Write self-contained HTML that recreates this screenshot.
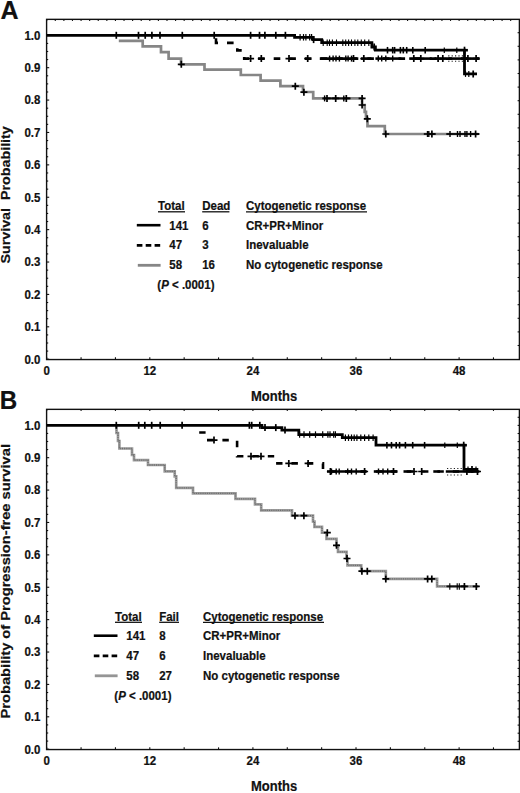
<!DOCTYPE html>
<html><head><meta charset="utf-8"><style>
html,body{margin:0;padding:0;background:#fff;width:520px;height:793px;overflow:hidden}
svg{display:block}
</style></head><body>
<svg width="520" height="793" viewBox="0 0 520 793" font-family='"Liberation Sans", sans-serif' font-weight="bold" fill="#111" stroke-linecap="butt">
<style>text{stroke:#111;stroke-width:0.2px;paint-order:stroke}</style>
<text transform="translate(0.50,18.60) scale(1,1.05)" font-size="25" text-anchor="start" >A</text>
<text transform="translate(-0.30,408.60) scale(1,1.05)" font-size="24.2" text-anchor="start" >B</text>
<rect x="46.60" y="19.35" width="472.80" height="340.20" fill="none" stroke="#111" stroke-width="1.4"/>
<line x1="46.60" y1="359.20" x2="49.20" y2="359.20" stroke="#111" stroke-width="1.1"/>
<line x1="46.60" y1="351.10" x2="48.20" y2="351.10" stroke="#111" stroke-width="1.1"/>
<line x1="46.60" y1="343.00" x2="48.20" y2="343.00" stroke="#111" stroke-width="1.1"/>
<line x1="46.60" y1="334.91" x2="48.20" y2="334.91" stroke="#111" stroke-width="1.1"/>
<line x1="46.60" y1="326.81" x2="49.20" y2="326.81" stroke="#111" stroke-width="1.1"/>
<line x1="46.60" y1="318.71" x2="48.20" y2="318.71" stroke="#111" stroke-width="1.1"/>
<line x1="46.60" y1="310.62" x2="48.20" y2="310.62" stroke="#111" stroke-width="1.1"/>
<line x1="46.60" y1="302.52" x2="48.20" y2="302.52" stroke="#111" stroke-width="1.1"/>
<line x1="46.60" y1="294.42" x2="49.20" y2="294.42" stroke="#111" stroke-width="1.1"/>
<line x1="46.60" y1="286.32" x2="48.20" y2="286.32" stroke="#111" stroke-width="1.1"/>
<line x1="46.60" y1="278.23" x2="48.20" y2="278.23" stroke="#111" stroke-width="1.1"/>
<line x1="46.60" y1="270.13" x2="48.20" y2="270.13" stroke="#111" stroke-width="1.1"/>
<line x1="46.60" y1="262.03" x2="49.20" y2="262.03" stroke="#111" stroke-width="1.1"/>
<line x1="46.60" y1="253.93" x2="48.20" y2="253.93" stroke="#111" stroke-width="1.1"/>
<line x1="46.60" y1="245.83" x2="48.20" y2="245.83" stroke="#111" stroke-width="1.1"/>
<line x1="46.60" y1="237.74" x2="48.20" y2="237.74" stroke="#111" stroke-width="1.1"/>
<line x1="46.60" y1="229.64" x2="49.20" y2="229.64" stroke="#111" stroke-width="1.1"/>
<line x1="46.60" y1="221.54" x2="48.20" y2="221.54" stroke="#111" stroke-width="1.1"/>
<line x1="46.60" y1="213.44" x2="48.20" y2="213.44" stroke="#111" stroke-width="1.1"/>
<line x1="46.60" y1="205.35" x2="48.20" y2="205.35" stroke="#111" stroke-width="1.1"/>
<line x1="46.60" y1="197.25" x2="49.20" y2="197.25" stroke="#111" stroke-width="1.1"/>
<line x1="46.60" y1="189.15" x2="48.20" y2="189.15" stroke="#111" stroke-width="1.1"/>
<line x1="46.60" y1="181.05" x2="48.20" y2="181.05" stroke="#111" stroke-width="1.1"/>
<line x1="46.60" y1="172.96" x2="48.20" y2="172.96" stroke="#111" stroke-width="1.1"/>
<line x1="46.60" y1="164.86" x2="49.20" y2="164.86" stroke="#111" stroke-width="1.1"/>
<line x1="46.60" y1="156.76" x2="48.20" y2="156.76" stroke="#111" stroke-width="1.1"/>
<line x1="46.60" y1="148.66" x2="48.20" y2="148.66" stroke="#111" stroke-width="1.1"/>
<line x1="46.60" y1="140.57" x2="48.20" y2="140.57" stroke="#111" stroke-width="1.1"/>
<line x1="46.60" y1="132.47" x2="49.20" y2="132.47" stroke="#111" stroke-width="1.1"/>
<line x1="46.60" y1="124.37" x2="48.20" y2="124.37" stroke="#111" stroke-width="1.1"/>
<line x1="46.60" y1="116.28" x2="48.20" y2="116.28" stroke="#111" stroke-width="1.1"/>
<line x1="46.60" y1="108.18" x2="48.20" y2="108.18" stroke="#111" stroke-width="1.1"/>
<line x1="46.60" y1="100.08" x2="49.20" y2="100.08" stroke="#111" stroke-width="1.1"/>
<line x1="46.60" y1="91.98" x2="48.20" y2="91.98" stroke="#111" stroke-width="1.1"/>
<line x1="46.60" y1="83.88" x2="48.20" y2="83.88" stroke="#111" stroke-width="1.1"/>
<line x1="46.60" y1="75.79" x2="48.20" y2="75.79" stroke="#111" stroke-width="1.1"/>
<line x1="46.60" y1="67.69" x2="49.20" y2="67.69" stroke="#111" stroke-width="1.1"/>
<line x1="46.60" y1="59.59" x2="48.20" y2="59.59" stroke="#111" stroke-width="1.1"/>
<line x1="46.60" y1="51.50" x2="48.20" y2="51.50" stroke="#111" stroke-width="1.1"/>
<line x1="46.60" y1="43.40" x2="48.20" y2="43.40" stroke="#111" stroke-width="1.1"/>
<line x1="46.60" y1="35.30" x2="49.20" y2="35.30" stroke="#111" stroke-width="1.1"/>
<line x1="46.70" y1="359.55" x2="46.70" y2="357.35" stroke="#111" stroke-width="1.1"/>
<line x1="81.07" y1="359.55" x2="81.07" y2="357.35" stroke="#111" stroke-width="1.1"/>
<line x1="115.44" y1="359.55" x2="115.44" y2="357.35" stroke="#111" stroke-width="1.1"/>
<line x1="149.80" y1="359.55" x2="149.80" y2="357.35" stroke="#111" stroke-width="1.1"/>
<line x1="184.17" y1="359.55" x2="184.17" y2="357.35" stroke="#111" stroke-width="1.1"/>
<line x1="218.54" y1="359.55" x2="218.54" y2="357.35" stroke="#111" stroke-width="1.1"/>
<line x1="252.91" y1="359.55" x2="252.91" y2="357.35" stroke="#111" stroke-width="1.1"/>
<line x1="287.28" y1="359.55" x2="287.28" y2="357.35" stroke="#111" stroke-width="1.1"/>
<line x1="321.64" y1="359.55" x2="321.64" y2="357.35" stroke="#111" stroke-width="1.1"/>
<line x1="356.01" y1="359.55" x2="356.01" y2="357.35" stroke="#111" stroke-width="1.1"/>
<line x1="390.38" y1="359.55" x2="390.38" y2="357.35" stroke="#111" stroke-width="1.1"/>
<line x1="424.75" y1="359.55" x2="424.75" y2="357.35" stroke="#111" stroke-width="1.1"/>
<line x1="459.12" y1="359.55" x2="459.12" y2="357.35" stroke="#111" stroke-width="1.1"/>
<line x1="493.48" y1="359.55" x2="493.48" y2="357.35" stroke="#111" stroke-width="1.1"/>
<line x1="46.70" y1="19.35" x2="46.70" y2="20.95" stroke="#111" stroke-width="1.1"/>
<line x1="55.29" y1="19.35" x2="55.29" y2="20.95" stroke="#111" stroke-width="1.1"/>
<line x1="63.88" y1="19.35" x2="63.88" y2="20.95" stroke="#111" stroke-width="1.1"/>
<line x1="72.48" y1="19.35" x2="72.48" y2="20.95" stroke="#111" stroke-width="1.1"/>
<line x1="81.07" y1="19.35" x2="81.07" y2="20.95" stroke="#111" stroke-width="1.1"/>
<line x1="89.66" y1="19.35" x2="89.66" y2="20.95" stroke="#111" stroke-width="1.1"/>
<line x1="98.25" y1="19.35" x2="98.25" y2="20.95" stroke="#111" stroke-width="1.1"/>
<line x1="106.84" y1="19.35" x2="106.84" y2="20.95" stroke="#111" stroke-width="1.1"/>
<line x1="115.44" y1="19.35" x2="115.44" y2="20.95" stroke="#111" stroke-width="1.1"/>
<line x1="124.03" y1="19.35" x2="124.03" y2="20.95" stroke="#111" stroke-width="1.1"/>
<line x1="132.62" y1="19.35" x2="132.62" y2="20.95" stroke="#111" stroke-width="1.1"/>
<line x1="141.21" y1="19.35" x2="141.21" y2="20.95" stroke="#111" stroke-width="1.1"/>
<line x1="149.80" y1="19.35" x2="149.80" y2="20.95" stroke="#111" stroke-width="1.1"/>
<line x1="158.40" y1="19.35" x2="158.40" y2="20.95" stroke="#111" stroke-width="1.1"/>
<line x1="166.99" y1="19.35" x2="166.99" y2="20.95" stroke="#111" stroke-width="1.1"/>
<line x1="175.58" y1="19.35" x2="175.58" y2="20.95" stroke="#111" stroke-width="1.1"/>
<line x1="184.17" y1="19.35" x2="184.17" y2="20.95" stroke="#111" stroke-width="1.1"/>
<line x1="192.76" y1="19.35" x2="192.76" y2="20.95" stroke="#111" stroke-width="1.1"/>
<line x1="201.36" y1="19.35" x2="201.36" y2="20.95" stroke="#111" stroke-width="1.1"/>
<line x1="209.95" y1="19.35" x2="209.95" y2="20.95" stroke="#111" stroke-width="1.1"/>
<line x1="218.54" y1="19.35" x2="218.54" y2="20.95" stroke="#111" stroke-width="1.1"/>
<line x1="227.13" y1="19.35" x2="227.13" y2="20.95" stroke="#111" stroke-width="1.1"/>
<line x1="235.72" y1="19.35" x2="235.72" y2="20.95" stroke="#111" stroke-width="1.1"/>
<line x1="244.32" y1="19.35" x2="244.32" y2="20.95" stroke="#111" stroke-width="1.1"/>
<line x1="252.91" y1="19.35" x2="252.91" y2="20.95" stroke="#111" stroke-width="1.1"/>
<line x1="261.50" y1="19.35" x2="261.50" y2="20.95" stroke="#111" stroke-width="1.1"/>
<line x1="270.09" y1="19.35" x2="270.09" y2="20.95" stroke="#111" stroke-width="1.1"/>
<line x1="278.68" y1="19.35" x2="278.68" y2="20.95" stroke="#111" stroke-width="1.1"/>
<line x1="287.28" y1="19.35" x2="287.28" y2="20.95" stroke="#111" stroke-width="1.1"/>
<line x1="295.87" y1="19.35" x2="295.87" y2="20.95" stroke="#111" stroke-width="1.1"/>
<line x1="304.46" y1="19.35" x2="304.46" y2="20.95" stroke="#111" stroke-width="1.1"/>
<line x1="313.05" y1="19.35" x2="313.05" y2="20.95" stroke="#111" stroke-width="1.1"/>
<line x1="321.64" y1="19.35" x2="321.64" y2="20.95" stroke="#111" stroke-width="1.1"/>
<line x1="330.24" y1="19.35" x2="330.24" y2="20.95" stroke="#111" stroke-width="1.1"/>
<line x1="338.83" y1="19.35" x2="338.83" y2="20.95" stroke="#111" stroke-width="1.1"/>
<line x1="347.42" y1="19.35" x2="347.42" y2="20.95" stroke="#111" stroke-width="1.1"/>
<line x1="356.01" y1="19.35" x2="356.01" y2="20.95" stroke="#111" stroke-width="1.1"/>
<line x1="364.60" y1="19.35" x2="364.60" y2="20.95" stroke="#111" stroke-width="1.1"/>
<line x1="373.20" y1="19.35" x2="373.20" y2="20.95" stroke="#111" stroke-width="1.1"/>
<line x1="381.79" y1="19.35" x2="381.79" y2="20.95" stroke="#111" stroke-width="1.1"/>
<line x1="390.38" y1="19.35" x2="390.38" y2="20.95" stroke="#111" stroke-width="1.1"/>
<line x1="398.97" y1="19.35" x2="398.97" y2="20.95" stroke="#111" stroke-width="1.1"/>
<line x1="407.56" y1="19.35" x2="407.56" y2="20.95" stroke="#111" stroke-width="1.1"/>
<line x1="416.16" y1="19.35" x2="416.16" y2="20.95" stroke="#111" stroke-width="1.1"/>
<line x1="424.75" y1="19.35" x2="424.75" y2="20.95" stroke="#111" stroke-width="1.1"/>
<line x1="433.34" y1="19.35" x2="433.34" y2="20.95" stroke="#111" stroke-width="1.1"/>
<line x1="441.93" y1="19.35" x2="441.93" y2="20.95" stroke="#111" stroke-width="1.1"/>
<line x1="450.52" y1="19.35" x2="450.52" y2="20.95" stroke="#111" stroke-width="1.1"/>
<line x1="459.12" y1="19.35" x2="459.12" y2="20.95" stroke="#111" stroke-width="1.1"/>
<line x1="467.71" y1="19.35" x2="467.71" y2="20.95" stroke="#111" stroke-width="1.1"/>
<line x1="476.30" y1="19.35" x2="476.30" y2="20.95" stroke="#111" stroke-width="1.1"/>
<line x1="484.89" y1="19.35" x2="484.89" y2="20.95" stroke="#111" stroke-width="1.1"/>
<line x1="493.48" y1="19.35" x2="493.48" y2="20.95" stroke="#111" stroke-width="1.1"/>
<line x1="502.08" y1="19.35" x2="502.08" y2="20.95" stroke="#111" stroke-width="1.1"/>
<line x1="510.67" y1="19.35" x2="510.67" y2="20.95" stroke="#111" stroke-width="1.1"/>
<line x1="519.40" y1="32.70" x2="517.60" y2="32.70" stroke="#111" stroke-width="1.1"/>
<line x1="519.40" y1="46.30" x2="517.60" y2="46.30" stroke="#111" stroke-width="1.1"/>
<line x1="519.40" y1="59.90" x2="517.60" y2="59.90" stroke="#111" stroke-width="1.1"/>
<line x1="519.40" y1="73.50" x2="517.60" y2="73.50" stroke="#111" stroke-width="1.1"/>
<line x1="519.40" y1="87.10" x2="517.60" y2="87.10" stroke="#111" stroke-width="1.1"/>
<line x1="519.40" y1="100.70" x2="517.60" y2="100.70" stroke="#111" stroke-width="1.1"/>
<line x1="519.40" y1="114.30" x2="517.60" y2="114.30" stroke="#111" stroke-width="1.1"/>
<line x1="519.40" y1="127.90" x2="517.60" y2="127.90" stroke="#111" stroke-width="1.1"/>
<line x1="519.40" y1="141.50" x2="517.60" y2="141.50" stroke="#111" stroke-width="1.1"/>
<line x1="519.40" y1="155.10" x2="517.60" y2="155.10" stroke="#111" stroke-width="1.1"/>
<line x1="519.40" y1="168.70" x2="517.60" y2="168.70" stroke="#111" stroke-width="1.1"/>
<line x1="519.40" y1="182.30" x2="517.60" y2="182.30" stroke="#111" stroke-width="1.1"/>
<line x1="519.40" y1="195.90" x2="517.60" y2="195.90" stroke="#111" stroke-width="1.1"/>
<line x1="519.40" y1="209.50" x2="517.60" y2="209.50" stroke="#111" stroke-width="1.1"/>
<line x1="519.40" y1="223.10" x2="517.60" y2="223.10" stroke="#111" stroke-width="1.1"/>
<line x1="519.40" y1="236.70" x2="517.60" y2="236.70" stroke="#111" stroke-width="1.1"/>
<line x1="519.40" y1="250.30" x2="517.60" y2="250.30" stroke="#111" stroke-width="1.1"/>
<line x1="519.40" y1="263.90" x2="517.60" y2="263.90" stroke="#111" stroke-width="1.1"/>
<line x1="519.40" y1="277.50" x2="517.60" y2="277.50" stroke="#111" stroke-width="1.1"/>
<line x1="519.40" y1="291.10" x2="517.60" y2="291.10" stroke="#111" stroke-width="1.1"/>
<line x1="519.40" y1="304.70" x2="517.60" y2="304.70" stroke="#111" stroke-width="1.1"/>
<line x1="519.40" y1="318.30" x2="517.60" y2="318.30" stroke="#111" stroke-width="1.1"/>
<line x1="519.40" y1="331.90" x2="517.60" y2="331.90" stroke="#111" stroke-width="1.1"/>
<line x1="519.40" y1="345.50" x2="517.60" y2="345.50" stroke="#111" stroke-width="1.1"/>
<text transform="translate(40.40,363.60) scale(1,1.1)" font-size="11.5" text-anchor="end" >0.0</text>
<text transform="translate(40.40,331.21) scale(1,1.1)" font-size="11.5" text-anchor="end" >0.1</text>
<text transform="translate(40.40,298.82) scale(1,1.1)" font-size="11.5" text-anchor="end" >0.2</text>
<text transform="translate(40.40,266.43) scale(1,1.1)" font-size="11.5" text-anchor="end" >0.3</text>
<text transform="translate(40.40,234.04) scale(1,1.1)" font-size="11.5" text-anchor="end" >0.4</text>
<text transform="translate(40.40,201.65) scale(1,1.1)" font-size="11.5" text-anchor="end" >0.5</text>
<text transform="translate(40.40,169.26) scale(1,1.1)" font-size="11.5" text-anchor="end" >0.6</text>
<text transform="translate(40.40,136.87) scale(1,1.1)" font-size="11.5" text-anchor="end" >0.7</text>
<text transform="translate(40.40,104.48) scale(1,1.1)" font-size="11.5" text-anchor="end" >0.8</text>
<text transform="translate(40.40,72.09) scale(1,1.1)" font-size="11.5" text-anchor="end" >0.9</text>
<text transform="translate(40.40,39.70) scale(1,1.1)" font-size="11.5" text-anchor="end" >1.0</text>
<text transform="translate(46.70,374.80) scale(1,1.1)" font-size="11.5" text-anchor="middle" >0</text>
<text transform="translate(149.80,374.80) scale(1,1.1)" font-size="11.5" text-anchor="middle" >12</text>
<text transform="translate(252.91,374.80) scale(1,1.1)" font-size="11.5" text-anchor="middle" >24</text>
<text transform="translate(356.01,374.80) scale(1,1.1)" font-size="11.5" text-anchor="middle" >36</text>
<text transform="translate(459.12,374.80) scale(1,1.1)" font-size="11.5" text-anchor="middle" >48</text>
<text transform="translate(251.00,400.60) scale(1,1.1)" font-size="13" text-anchor="start" >Months</text>
<rect x="46.60" y="409.35" width="472.80" height="340.20" fill="none" stroke="#111" stroke-width="1.4"/>
<line x1="46.60" y1="749.20" x2="49.20" y2="749.20" stroke="#111" stroke-width="1.1"/>
<line x1="46.60" y1="741.10" x2="48.20" y2="741.10" stroke="#111" stroke-width="1.1"/>
<line x1="46.60" y1="733.00" x2="48.20" y2="733.00" stroke="#111" stroke-width="1.1"/>
<line x1="46.60" y1="724.91" x2="48.20" y2="724.91" stroke="#111" stroke-width="1.1"/>
<line x1="46.60" y1="716.81" x2="49.20" y2="716.81" stroke="#111" stroke-width="1.1"/>
<line x1="46.60" y1="708.71" x2="48.20" y2="708.71" stroke="#111" stroke-width="1.1"/>
<line x1="46.60" y1="700.62" x2="48.20" y2="700.62" stroke="#111" stroke-width="1.1"/>
<line x1="46.60" y1="692.52" x2="48.20" y2="692.52" stroke="#111" stroke-width="1.1"/>
<line x1="46.60" y1="684.42" x2="49.20" y2="684.42" stroke="#111" stroke-width="1.1"/>
<line x1="46.60" y1="676.32" x2="48.20" y2="676.32" stroke="#111" stroke-width="1.1"/>
<line x1="46.60" y1="668.23" x2="48.20" y2="668.23" stroke="#111" stroke-width="1.1"/>
<line x1="46.60" y1="660.13" x2="48.20" y2="660.13" stroke="#111" stroke-width="1.1"/>
<line x1="46.60" y1="652.03" x2="49.20" y2="652.03" stroke="#111" stroke-width="1.1"/>
<line x1="46.60" y1="643.93" x2="48.20" y2="643.93" stroke="#111" stroke-width="1.1"/>
<line x1="46.60" y1="635.84" x2="48.20" y2="635.84" stroke="#111" stroke-width="1.1"/>
<line x1="46.60" y1="627.74" x2="48.20" y2="627.74" stroke="#111" stroke-width="1.1"/>
<line x1="46.60" y1="619.64" x2="49.20" y2="619.64" stroke="#111" stroke-width="1.1"/>
<line x1="46.60" y1="611.54" x2="48.20" y2="611.54" stroke="#111" stroke-width="1.1"/>
<line x1="46.60" y1="603.45" x2="48.20" y2="603.45" stroke="#111" stroke-width="1.1"/>
<line x1="46.60" y1="595.35" x2="48.20" y2="595.35" stroke="#111" stroke-width="1.1"/>
<line x1="46.60" y1="587.25" x2="49.20" y2="587.25" stroke="#111" stroke-width="1.1"/>
<line x1="46.60" y1="579.15" x2="48.20" y2="579.15" stroke="#111" stroke-width="1.1"/>
<line x1="46.60" y1="571.06" x2="48.20" y2="571.06" stroke="#111" stroke-width="1.1"/>
<line x1="46.60" y1="562.96" x2="48.20" y2="562.96" stroke="#111" stroke-width="1.1"/>
<line x1="46.60" y1="554.86" x2="49.20" y2="554.86" stroke="#111" stroke-width="1.1"/>
<line x1="46.60" y1="546.76" x2="48.20" y2="546.76" stroke="#111" stroke-width="1.1"/>
<line x1="46.60" y1="538.67" x2="48.20" y2="538.67" stroke="#111" stroke-width="1.1"/>
<line x1="46.60" y1="530.57" x2="48.20" y2="530.57" stroke="#111" stroke-width="1.1"/>
<line x1="46.60" y1="522.47" x2="49.20" y2="522.47" stroke="#111" stroke-width="1.1"/>
<line x1="46.60" y1="514.37" x2="48.20" y2="514.37" stroke="#111" stroke-width="1.1"/>
<line x1="46.60" y1="506.28" x2="48.20" y2="506.28" stroke="#111" stroke-width="1.1"/>
<line x1="46.60" y1="498.18" x2="48.20" y2="498.18" stroke="#111" stroke-width="1.1"/>
<line x1="46.60" y1="490.08" x2="49.20" y2="490.08" stroke="#111" stroke-width="1.1"/>
<line x1="46.60" y1="481.98" x2="48.20" y2="481.98" stroke="#111" stroke-width="1.1"/>
<line x1="46.60" y1="473.89" x2="48.20" y2="473.89" stroke="#111" stroke-width="1.1"/>
<line x1="46.60" y1="465.79" x2="48.20" y2="465.79" stroke="#111" stroke-width="1.1"/>
<line x1="46.60" y1="457.69" x2="49.20" y2="457.69" stroke="#111" stroke-width="1.1"/>
<line x1="46.60" y1="449.59" x2="48.20" y2="449.59" stroke="#111" stroke-width="1.1"/>
<line x1="46.60" y1="441.50" x2="48.20" y2="441.50" stroke="#111" stroke-width="1.1"/>
<line x1="46.60" y1="433.40" x2="48.20" y2="433.40" stroke="#111" stroke-width="1.1"/>
<line x1="46.60" y1="425.30" x2="49.20" y2="425.30" stroke="#111" stroke-width="1.1"/>
<line x1="46.70" y1="749.55" x2="46.70" y2="747.35" stroke="#111" stroke-width="1.1"/>
<line x1="81.07" y1="749.55" x2="81.07" y2="747.35" stroke="#111" stroke-width="1.1"/>
<line x1="115.44" y1="749.55" x2="115.44" y2="747.35" stroke="#111" stroke-width="1.1"/>
<line x1="149.80" y1="749.55" x2="149.80" y2="747.35" stroke="#111" stroke-width="1.1"/>
<line x1="184.17" y1="749.55" x2="184.17" y2="747.35" stroke="#111" stroke-width="1.1"/>
<line x1="218.54" y1="749.55" x2="218.54" y2="747.35" stroke="#111" stroke-width="1.1"/>
<line x1="252.91" y1="749.55" x2="252.91" y2="747.35" stroke="#111" stroke-width="1.1"/>
<line x1="287.28" y1="749.55" x2="287.28" y2="747.35" stroke="#111" stroke-width="1.1"/>
<line x1="321.64" y1="749.55" x2="321.64" y2="747.35" stroke="#111" stroke-width="1.1"/>
<line x1="356.01" y1="749.55" x2="356.01" y2="747.35" stroke="#111" stroke-width="1.1"/>
<line x1="390.38" y1="749.55" x2="390.38" y2="747.35" stroke="#111" stroke-width="1.1"/>
<line x1="424.75" y1="749.55" x2="424.75" y2="747.35" stroke="#111" stroke-width="1.1"/>
<line x1="459.12" y1="749.55" x2="459.12" y2="747.35" stroke="#111" stroke-width="1.1"/>
<line x1="493.48" y1="749.55" x2="493.48" y2="747.35" stroke="#111" stroke-width="1.1"/>
<line x1="46.70" y1="409.35" x2="46.70" y2="410.95" stroke="#111" stroke-width="1.1"/>
<line x1="81.07" y1="409.35" x2="81.07" y2="410.95" stroke="#111" stroke-width="1.1"/>
<line x1="115.44" y1="409.35" x2="115.44" y2="410.95" stroke="#111" stroke-width="1.1"/>
<line x1="149.80" y1="409.35" x2="149.80" y2="410.95" stroke="#111" stroke-width="1.1"/>
<line x1="184.17" y1="409.35" x2="184.17" y2="410.95" stroke="#111" stroke-width="1.1"/>
<line x1="218.54" y1="409.35" x2="218.54" y2="410.95" stroke="#111" stroke-width="1.1"/>
<line x1="252.91" y1="409.35" x2="252.91" y2="410.95" stroke="#111" stroke-width="1.1"/>
<line x1="287.28" y1="409.35" x2="287.28" y2="410.95" stroke="#111" stroke-width="1.1"/>
<line x1="321.64" y1="409.35" x2="321.64" y2="410.95" stroke="#111" stroke-width="1.1"/>
<line x1="356.01" y1="409.35" x2="356.01" y2="410.95" stroke="#111" stroke-width="1.1"/>
<line x1="390.38" y1="409.35" x2="390.38" y2="410.95" stroke="#111" stroke-width="1.1"/>
<line x1="424.75" y1="409.35" x2="424.75" y2="410.95" stroke="#111" stroke-width="1.1"/>
<line x1="459.12" y1="409.35" x2="459.12" y2="410.95" stroke="#111" stroke-width="1.1"/>
<line x1="493.48" y1="409.35" x2="493.48" y2="410.95" stroke="#111" stroke-width="1.1"/>
<line x1="519.40" y1="417.30" x2="517.60" y2="417.30" stroke="#111" stroke-width="1.1"/>
<line x1="519.40" y1="425.40" x2="517.60" y2="425.40" stroke="#111" stroke-width="1.1"/>
<line x1="519.40" y1="433.50" x2="517.60" y2="433.50" stroke="#111" stroke-width="1.1"/>
<line x1="519.40" y1="441.60" x2="517.60" y2="441.60" stroke="#111" stroke-width="1.1"/>
<line x1="519.40" y1="449.70" x2="517.60" y2="449.70" stroke="#111" stroke-width="1.1"/>
<line x1="519.40" y1="457.80" x2="517.60" y2="457.80" stroke="#111" stroke-width="1.1"/>
<line x1="519.40" y1="465.90" x2="517.60" y2="465.90" stroke="#111" stroke-width="1.1"/>
<line x1="519.40" y1="474.00" x2="517.60" y2="474.00" stroke="#111" stroke-width="1.1"/>
<line x1="519.40" y1="482.10" x2="517.60" y2="482.10" stroke="#111" stroke-width="1.1"/>
<line x1="519.40" y1="490.20" x2="517.60" y2="490.20" stroke="#111" stroke-width="1.1"/>
<line x1="519.40" y1="498.30" x2="517.60" y2="498.30" stroke="#111" stroke-width="1.1"/>
<line x1="519.40" y1="506.40" x2="517.60" y2="506.40" stroke="#111" stroke-width="1.1"/>
<line x1="519.40" y1="514.50" x2="517.60" y2="514.50" stroke="#111" stroke-width="1.1"/>
<line x1="519.40" y1="522.60" x2="517.60" y2="522.60" stroke="#111" stroke-width="1.1"/>
<line x1="519.40" y1="530.70" x2="517.60" y2="530.70" stroke="#111" stroke-width="1.1"/>
<line x1="519.40" y1="538.80" x2="517.60" y2="538.80" stroke="#111" stroke-width="1.1"/>
<line x1="519.40" y1="546.90" x2="517.60" y2="546.90" stroke="#111" stroke-width="1.1"/>
<line x1="519.40" y1="555.00" x2="517.60" y2="555.00" stroke="#111" stroke-width="1.1"/>
<line x1="519.40" y1="563.10" x2="517.60" y2="563.10" stroke="#111" stroke-width="1.1"/>
<line x1="519.40" y1="571.20" x2="517.60" y2="571.20" stroke="#111" stroke-width="1.1"/>
<line x1="519.40" y1="579.30" x2="517.60" y2="579.30" stroke="#111" stroke-width="1.1"/>
<line x1="519.40" y1="587.40" x2="517.60" y2="587.40" stroke="#111" stroke-width="1.1"/>
<line x1="519.40" y1="595.50" x2="517.60" y2="595.50" stroke="#111" stroke-width="1.1"/>
<line x1="519.40" y1="603.60" x2="517.60" y2="603.60" stroke="#111" stroke-width="1.1"/>
<line x1="519.40" y1="611.70" x2="517.60" y2="611.70" stroke="#111" stroke-width="1.1"/>
<line x1="519.40" y1="619.80" x2="517.60" y2="619.80" stroke="#111" stroke-width="1.1"/>
<line x1="519.40" y1="627.90" x2="517.60" y2="627.90" stroke="#111" stroke-width="1.1"/>
<line x1="519.40" y1="636.00" x2="517.60" y2="636.00" stroke="#111" stroke-width="1.1"/>
<line x1="519.40" y1="644.10" x2="517.60" y2="644.10" stroke="#111" stroke-width="1.1"/>
<line x1="519.40" y1="652.20" x2="517.60" y2="652.20" stroke="#111" stroke-width="1.1"/>
<line x1="519.40" y1="660.30" x2="517.60" y2="660.30" stroke="#111" stroke-width="1.1"/>
<line x1="519.40" y1="668.40" x2="517.60" y2="668.40" stroke="#111" stroke-width="1.1"/>
<line x1="519.40" y1="676.50" x2="517.60" y2="676.50" stroke="#111" stroke-width="1.1"/>
<line x1="519.40" y1="684.60" x2="517.60" y2="684.60" stroke="#111" stroke-width="1.1"/>
<line x1="519.40" y1="692.70" x2="517.60" y2="692.70" stroke="#111" stroke-width="1.1"/>
<line x1="519.40" y1="700.80" x2="517.60" y2="700.80" stroke="#111" stroke-width="1.1"/>
<line x1="519.40" y1="708.90" x2="517.60" y2="708.90" stroke="#111" stroke-width="1.1"/>
<line x1="519.40" y1="717.00" x2="517.60" y2="717.00" stroke="#111" stroke-width="1.1"/>
<line x1="519.40" y1="725.10" x2="517.60" y2="725.10" stroke="#111" stroke-width="1.1"/>
<line x1="519.40" y1="733.20" x2="517.60" y2="733.20" stroke="#111" stroke-width="1.1"/>
<line x1="519.40" y1="741.30" x2="517.60" y2="741.30" stroke="#111" stroke-width="1.1"/>
<text transform="translate(40.40,753.60) scale(1,1.1)" font-size="11.5" text-anchor="end" >0.0</text>
<text transform="translate(40.40,721.21) scale(1,1.1)" font-size="11.5" text-anchor="end" >0.1</text>
<text transform="translate(40.40,688.82) scale(1,1.1)" font-size="11.5" text-anchor="end" >0.2</text>
<text transform="translate(40.40,656.43) scale(1,1.1)" font-size="11.5" text-anchor="end" >0.3</text>
<text transform="translate(40.40,624.04) scale(1,1.1)" font-size="11.5" text-anchor="end" >0.4</text>
<text transform="translate(40.40,591.65) scale(1,1.1)" font-size="11.5" text-anchor="end" >0.5</text>
<text transform="translate(40.40,559.26) scale(1,1.1)" font-size="11.5" text-anchor="end" >0.6</text>
<text transform="translate(40.40,526.87) scale(1,1.1)" font-size="11.5" text-anchor="end" >0.7</text>
<text transform="translate(40.40,494.48) scale(1,1.1)" font-size="11.5" text-anchor="end" >0.8</text>
<text transform="translate(40.40,462.09) scale(1,1.1)" font-size="11.5" text-anchor="end" >0.9</text>
<text transform="translate(40.40,429.70) scale(1,1.1)" font-size="11.5" text-anchor="end" >1.0</text>
<text transform="translate(46.70,764.80) scale(1,1.1)" font-size="11.5" text-anchor="middle" >0</text>
<text transform="translate(149.80,764.80) scale(1,1.1)" font-size="11.5" text-anchor="middle" >12</text>
<text transform="translate(252.91,764.80) scale(1,1.1)" font-size="11.5" text-anchor="middle" >24</text>
<text transform="translate(356.01,764.80) scale(1,1.1)" font-size="11.5" text-anchor="middle" >36</text>
<text transform="translate(459.12,764.80) scale(1,1.1)" font-size="11.5" text-anchor="middle" >48</text>
<text transform="translate(251.00,790.60) scale(1,1.1)" font-size="13" text-anchor="start" >Months</text>
<text transform="translate(10.3,263.6) rotate(-90) scale(1.1,1)" font-size="13" xml:space="preserve">Survival  Probability</text>
<text transform="translate(9.9,718.4) rotate(-90) scale(1.128,1)" font-size="13">Probability of Progression-free survival</text>
<path d="M118.80,40.90 H142.70 V46.40 H161.00 V52.10 H168.60 V58.60 H181.00 V64.30 H204.50 V69.60 H240.80 V75.00 H260.60 V80.70 H280.40 V86.20 H303.00 V92.00 H313.20 V98.40 H362.10 V105.00 H364.70 V111.90 H366.00 V118.50 H367.50 V126.20 H384.80 V134.00 H478.40" stroke="#868686" stroke-width="2.7" fill="none"/>
<line x1="322.20" y1="98.40" x2="350.60" y2="98.40" stroke="#111" stroke-width="1.8"/>
<line x1="423.80" y1="134.00" x2="435.60" y2="134.00" stroke="#111" stroke-width="1.8"/>
<line x1="446.30" y1="134.00" x2="479.40" y2="134.00" stroke="#111" stroke-width="1.8"/>
<path d="M177.80,64.30H184.80M181.30,60.80V67.80" stroke="#000" stroke-width="1.7" fill="none"/>
<path d="M291.80,86.20H298.80M295.30,82.70V89.70" stroke="#000" stroke-width="1.7" fill="none"/>
<path d="M300.40,92.20H307.40M303.90,88.70V95.70" stroke="#000" stroke-width="1.7" fill="none"/>
<path d="M323.50,98.40H330.50M327.00,94.90V101.90" stroke="#000" stroke-width="1.7" fill="none"/>
<path d="M332.20,98.40H339.20M335.70,94.90V101.90" stroke="#000" stroke-width="1.7" fill="none"/>
<path d="M342.80,98.40H349.80M346.30,94.90V101.90" stroke="#000" stroke-width="1.7" fill="none"/>
<path d="M358.60,98.40H365.60M362.10,94.90V101.90" stroke="#000" stroke-width="1.7" fill="none"/>
<path d="M358.60,105.00H365.60M362.10,101.50V108.50" stroke="#000" stroke-width="1.7" fill="none"/>
<path d="M363.80,118.80H370.80M367.30,115.30V122.30" stroke="#000" stroke-width="1.7" fill="none"/>
<path d="M382.30,134.00H389.30M385.80,130.50V137.50" stroke="#000" stroke-width="1.7" fill="none"/>
<path d="M428.40,134.00H435.40M431.90,130.50V137.50" stroke="#000" stroke-width="1.7" fill="none"/>
<path d="M472.10,134.00H479.10M475.60,130.50V137.50" stroke="#000" stroke-width="1.7" fill="none"/>
<path d="M324.60,95.40V101.40" stroke="#000" stroke-width="1.4" fill="none"/>
<path d="M343.80,95.40V101.40" stroke="#000" stroke-width="1.4" fill="none"/>
<path d="M427.50,131.00V137.00" stroke="#000" stroke-width="1.4" fill="none"/>
<path d="M428.80,131.00V137.00" stroke="#000" stroke-width="1.4" fill="none"/>
<path d="M450.00,131.00V137.00" stroke="#000" stroke-width="1.4" fill="none"/>
<path d="M457.50,131.00V137.00" stroke="#000" stroke-width="1.4" fill="none"/>
<path d="M460.00,131.00V137.00" stroke="#000" stroke-width="1.4" fill="none"/>
<path d="M465.00,131.00V137.00" stroke="#000" stroke-width="1.4" fill="none"/>
<path d="M466.90,131.00V137.00" stroke="#000" stroke-width="1.4" fill="none"/>
<path d="M470.60,131.00V137.00" stroke="#000" stroke-width="1.4" fill="none"/>
<path d="M216.00,35.30 H216.00 V42.90 H237.30 V50.40 H244.20 V58.60 H479.40" stroke="#000" stroke-width="2.6" fill="none" stroke-dasharray="6.6 9.0" stroke-dashoffset="12.6"/>
<line x1="319.80" y1="58.60" x2="356.90" y2="58.60" stroke="#000" stroke-width="2.6"/>
<line x1="361.00" y1="58.60" x2="371.30" y2="58.60" stroke="#000" stroke-width="2.6"/>
<line x1="375.40" y1="58.60" x2="401.30" y2="58.60" stroke="#000" stroke-width="2.6"/>
<line x1="409.20" y1="58.60" x2="431.70" y2="58.60" stroke="#000" stroke-width="2.6"/>
<line x1="434.60" y1="58.60" x2="445.60" y2="58.60" stroke="#000" stroke-width="2.6"/>
<line x1="448.50" y1="58.60" x2="479.40" y2="58.60" stroke="#000" stroke-width="2.6"/>
<path d="M247.10,58.60H254.10M250.60,55.10V62.10" stroke="#000" stroke-width="1.7" fill="none"/>
<path d="M257.80,58.60H264.80M261.30,55.10V62.10" stroke="#000" stroke-width="1.7" fill="none"/>
<path d="M285.50,58.60H292.50M289.00,55.10V62.10" stroke="#000" stroke-width="1.7" fill="none"/>
<path d="M304.20,58.60H311.20M307.70,55.10V62.10" stroke="#000" stroke-width="1.7" fill="none"/>
<path d="M350.00,58.60H357.00M353.50,55.10V62.10" stroke="#000" stroke-width="1.7" fill="none"/>
<path d="M360.30,58.60H367.30M363.80,55.10V62.10" stroke="#000" stroke-width="1.7" fill="none"/>
<path d="M410.30,58.60H417.30M413.80,55.10V62.10" stroke="#000" stroke-width="1.7" fill="none"/>
<path d="M417.30,58.60H424.30M420.80,55.10V62.10" stroke="#000" stroke-width="1.7" fill="none"/>
<path d="M434.60,58.60H441.60M438.10,55.10V62.10" stroke="#000" stroke-width="1.7" fill="none"/>
<path d="M439.30,58.60H446.30M442.80,55.10V62.10" stroke="#000" stroke-width="1.7" fill="none"/>
<path d="M464.40,58.60H471.40M467.90,55.10V62.10" stroke="#000" stroke-width="1.7" fill="none"/>
<path d="M472.60,58.60H479.60M476.10,55.10V62.10" stroke="#000" stroke-width="1.7" fill="none"/>
<path d="M329.60,55.60V61.60" stroke="#000" stroke-width="1.4" fill="none"/>
<path d="M333.10,55.60V61.60" stroke="#000" stroke-width="1.4" fill="none"/>
<path d="M336.00,55.60V61.60" stroke="#000" stroke-width="1.4" fill="none"/>
<path d="M339.40,55.60V61.60" stroke="#000" stroke-width="1.4" fill="none"/>
<path d="M345.80,55.60V61.60" stroke="#000" stroke-width="1.4" fill="none"/>
<path d="M348.10,55.60V61.60" stroke="#000" stroke-width="1.4" fill="none"/>
<path d="M351.50,55.60V61.60" stroke="#000" stroke-width="1.4" fill="none"/>
<path d="M378.30,55.60V61.60" stroke="#000" stroke-width="1.4" fill="none"/>
<path d="M381.70,55.60V61.60" stroke="#000" stroke-width="1.4" fill="none"/>
<path d="M385.80,55.60V61.60" stroke="#000" stroke-width="1.4" fill="none"/>
<path d="M392.70,55.60V61.60" stroke="#000" stroke-width="1.4" fill="none"/>
<path d="M448.2,55.9H463.1" stroke="#222" stroke-width="1.1" stroke-dasharray="1.2 2.2"/>
<path d="M448.2,61.3H463.1" stroke="#222" stroke-width="1.1" stroke-dasharray="1.2 2.2"/>
<path d="M46.70,35.30 H294.60 V37.30 H313.10 V39.60 H321.70 V42.70 H371.90 V47.00 H375.40 V50.20 H464.50 V73.90 H477.00" stroke="#000" stroke-width="2.8" fill="none"/>
<line x1="464.50" y1="50.20" x2="467.90" y2="50.20" stroke="#000" stroke-width="2.6"/>
<path d="M116.30,31.80V38.80" stroke="#000" stroke-width="1.7" fill="none"/>
<path d="M138.50,31.80V38.80" stroke="#000" stroke-width="1.7" fill="none"/>
<path d="M145.20,31.80V38.80" stroke="#000" stroke-width="1.7" fill="none"/>
<path d="M151.90,31.80V38.80" stroke="#000" stroke-width="1.7" fill="none"/>
<path d="M160.00,31.80V38.80" stroke="#000" stroke-width="1.7" fill="none"/>
<path d="M182.30,31.80V38.80" stroke="#000" stroke-width="1.7" fill="none"/>
<path d="M214.20,31.80V38.80" stroke="#000" stroke-width="1.7" fill="none"/>
<path d="M250.60,31.80V38.80" stroke="#000" stroke-width="1.7" fill="none"/>
<path d="M259.50,31.80V38.80" stroke="#000" stroke-width="1.7" fill="none"/>
<path d="M264.90,31.80V38.80" stroke="#000" stroke-width="1.7" fill="none"/>
<path d="M275.80,31.80V38.80" stroke="#000" stroke-width="1.7" fill="none"/>
<path d="M285.40,31.80V38.80" stroke="#000" stroke-width="1.7" fill="none"/>
<path d="M300.10,34.05V40.55" stroke="#000" stroke-width="1.2" fill="none"/>
<path d="M303.50,34.05V40.55" stroke="#000" stroke-width="1.2" fill="none"/>
<path d="M305.90,34.05V40.55" stroke="#000" stroke-width="1.2" fill="none"/>
<path d="M309.70,34.05V40.55" stroke="#000" stroke-width="1.2" fill="none"/>
<path d="M311.60,34.05V40.55" stroke="#000" stroke-width="1.2" fill="none"/>
<path d="M313.60,36.10V43.10" stroke="#000" stroke-width="1.7" fill="none"/>
<path d="M323.20,39.45V45.95" stroke="#000" stroke-width="1.1" fill="none"/>
<path d="M327.20,39.45V45.95" stroke="#000" stroke-width="1.1" fill="none"/>
<path d="M329.50,39.45V45.95" stroke="#000" stroke-width="1.1" fill="none"/>
<path d="M332.40,39.45V45.95" stroke="#000" stroke-width="1.1" fill="none"/>
<path d="M336.50,39.45V45.95" stroke="#000" stroke-width="1.1" fill="none"/>
<path d="M342.80,39.45V45.95" stroke="#000" stroke-width="1.1" fill="none"/>
<path d="M345.70,39.45V45.95" stroke="#000" stroke-width="1.1" fill="none"/>
<path d="M348.60,39.45V45.95" stroke="#000" stroke-width="1.1" fill="none"/>
<path d="M351.50,39.45V45.95" stroke="#000" stroke-width="1.1" fill="none"/>
<path d="M354.90,39.45V45.95" stroke="#000" stroke-width="1.1" fill="none"/>
<path d="M357.80,39.45V45.95" stroke="#000" stroke-width="1.1" fill="none"/>
<path d="M361.30,39.45V45.95" stroke="#000" stroke-width="1.1" fill="none"/>
<path d="M364.70,39.45V45.95" stroke="#000" stroke-width="1.1" fill="none"/>
<path d="M368.80,39.45V45.95" stroke="#000" stroke-width="1.1" fill="none"/>
<path d="M374.20,43.50V50.50" stroke="#000" stroke-width="1.7" fill="none"/>
<path d="M387.50,46.95V53.45" stroke="#000" stroke-width="1.6" fill="none"/>
<path d="M392.70,46.95V53.45" stroke="#000" stroke-width="1.6" fill="none"/>
<path d="M394.60,46.95V53.45" stroke="#000" stroke-width="1.6" fill="none"/>
<path d="M400.40,46.95V53.45" stroke="#000" stroke-width="1.6" fill="none"/>
<path d="M403.30,46.95V53.45" stroke="#000" stroke-width="1.6" fill="none"/>
<path d="M406.70,46.95V53.45" stroke="#000" stroke-width="1.6" fill="none"/>
<path d="M412.80,46.95V53.45" stroke="#000" stroke-width="1.6" fill="none"/>
<path d="M425.20,46.95V53.45" stroke="#000" stroke-width="1.6" fill="none"/>
<path d="M444.30,47.45V52.95" stroke="#000" stroke-width="1.2" fill="none"/>
<path d="M456.80,47.45V52.95" stroke="#000" stroke-width="1.2" fill="none"/>
<path d="M464.50,46.70V53.70" stroke="#000" stroke-width="1.7" fill="none"/>
<path d="M469.70,73.90H476.70M473.20,70.40V77.40" stroke="#000" stroke-width="1.7" fill="none"/>
<path d="M465.50,70.90V76.90" stroke="#000" stroke-width="1.2" fill="none"/>
<path d="M468.80,70.90V76.90" stroke="#000" stroke-width="1.2" fill="none"/>
<path d="M116.50,425.30 H116.50 V433.00 H118.00 V441.00 H119.40 V448.50 H132.00 V455.00 H134.00 V460.10 H148.00 V465.00 H164.70 V471.30 H174.70 V476.30 H176.20 V487.80 H193.00 V493.30 H235.50 V498.80 H255.00 V504.30 H261.20 V510.40 H292.00 V515.70 H313.00 V521.50 H314.50 V526.80 H322.00 V532.70 H326.50 V538.80 H336.50 V545.30 H338.00 V551.90 H346.50 V558.50 H347.50 V565.30 H361.20 V571.20 H385.80 V578.90 H437.10 V586.40 H478.40" stroke="#9c9c9c" stroke-width="2.7" fill="none"/>
<path d="M116.50,425.30 H116.50 V433.00 H118.00 V441.00 H119.40 V448.50 H132.00 V455.00 H134.00 V460.10 H148.00 V465.00 H164.70 V471.30 H174.70 V476.30 H176.20 V487.80 H193.00 V493.30 H235.50 V498.80 H255.00 V504.30 H261.20 V510.40 H292.00 V515.70 H313.00 V521.50 H314.50 V526.80 H322.00 V532.70 H326.50 V538.80 H336.50 V545.30 H338.00 V551.90 H346.50 V558.50 H347.50 V565.30 H361.20 V571.20 H385.80 V578.90 H437.10 V586.40 H478.40" stroke="#6e6e6e" stroke-width="1.3" fill="none" stroke-dasharray="1.1 1.1"/>
<line x1="446.60" y1="586.40" x2="465.70" y2="586.40" stroke="#111" stroke-width="1.8"/>
<path d="M291.50,515.70H298.50M295.00,512.20V519.20" stroke="#000" stroke-width="1.7" fill="none"/>
<path d="M300.40,515.70H307.40M303.90,512.20V519.20" stroke="#000" stroke-width="1.7" fill="none"/>
<path d="M323.80,532.70H330.80M327.30,529.20V536.20" stroke="#000" stroke-width="1.7" fill="none"/>
<path d="M333.00,545.30H340.00M336.50,541.80V548.80" stroke="#000" stroke-width="1.7" fill="none"/>
<path d="M343.50,558.50H350.50M347.00,555.00V562.00" stroke="#000" stroke-width="1.7" fill="none"/>
<path d="M358.40,571.20H365.40M361.90,567.70V574.70" stroke="#000" stroke-width="1.7" fill="none"/>
<path d="M363.80,571.20H370.80M367.30,567.70V574.70" stroke="#000" stroke-width="1.7" fill="none"/>
<path d="M382.30,578.90H389.30M385.80,575.40V582.40" stroke="#000" stroke-width="1.7" fill="none"/>
<path d="M424.10,578.90H431.10M427.60,575.40V582.40" stroke="#000" stroke-width="1.7" fill="none"/>
<path d="M428.30,578.90H435.30M431.80,575.40V582.40" stroke="#000" stroke-width="1.7" fill="none"/>
<path d="M472.80,586.40H479.80M476.30,582.90V589.90" stroke="#000" stroke-width="1.7" fill="none"/>
<path d="M449.80,583.15V589.65" stroke="#000" stroke-width="1.1" fill="none"/>
<path d="M457.20,583.15V589.65" stroke="#000" stroke-width="1.1" fill="none"/>
<path d="M459.30,583.15V589.65" stroke="#000" stroke-width="1.1" fill="none"/>
<path d="M460.90,586.40H467.90M464.40,582.90V589.90" stroke="#000" stroke-width="1.7" fill="none"/>
<path d="M199.20,425.30 H199.20 V432.50 H206.50 V440.10 H237.10 V456.30 H275.00 V463.40 H323.00 V471.50 H479.40" stroke="#000" stroke-width="2.6" fill="none" stroke-dasharray="6.4 9.0" stroke-dashoffset="8.2"/>
<line x1="327.00" y1="471.50" x2="366.00" y2="471.50" stroke="#000" stroke-width="2.6"/>
<line x1="373.80" y1="471.50" x2="396.90" y2="471.50" stroke="#000" stroke-width="2.6"/>
<line x1="403.50" y1="471.50" x2="411.20" y2="471.50" stroke="#000" stroke-width="2.6"/>
<line x1="433.30" y1="471.50" x2="440.00" y2="471.50" stroke="#000" stroke-width="2.6"/>
<line x1="445.80" y1="471.50" x2="479.40" y2="471.50" stroke="#000" stroke-width="2.6"/>
<path d="M210.50,440.10H217.50M214.00,436.60V443.60" stroke="#000" stroke-width="1.7" fill="none"/>
<path d="M247.50,456.30H254.50M251.00,452.80V459.80" stroke="#000" stroke-width="1.7" fill="none"/>
<path d="M257.50,456.30H264.50M261.00,452.80V459.80" stroke="#000" stroke-width="1.7" fill="none"/>
<path d="M285.30,463.40H292.30M288.80,459.90V466.90" stroke="#000" stroke-width="1.7" fill="none"/>
<path d="M304.60,463.40H311.60M308.10,459.90V466.90" stroke="#000" stroke-width="1.7" fill="none"/>
<path d="M326.90,471.50H333.90M330.40,468.00V475.00" stroke="#000" stroke-width="1.7" fill="none"/>
<path d="M361.10,471.50H368.10M364.60,468.00V475.00" stroke="#000" stroke-width="1.7" fill="none"/>
<path d="M390.00,471.50H397.00M393.50,468.00V475.00" stroke="#000" stroke-width="1.7" fill="none"/>
<path d="M410.50,471.50H417.50M414.00,468.00V475.00" stroke="#000" stroke-width="1.7" fill="none"/>
<path d="M418.20,471.50H425.20M421.70,468.00V475.00" stroke="#000" stroke-width="1.7" fill="none"/>
<path d="M463.40,471.50H470.40M466.90,468.00V475.00" stroke="#000" stroke-width="1.7" fill="none"/>
<path d="M474.00,471.50H481.00M477.50,468.00V475.00" stroke="#000" stroke-width="1.7" fill="none"/>
<path d="M331.50,468.50V474.50" stroke="#000" stroke-width="1.4" fill="none"/>
<path d="M336.20,468.50V474.50" stroke="#000" stroke-width="1.4" fill="none"/>
<path d="M339.20,468.50V474.50" stroke="#000" stroke-width="1.4" fill="none"/>
<path d="M347.70,468.50V474.50" stroke="#000" stroke-width="1.4" fill="none"/>
<path d="M351.50,468.50V474.50" stroke="#000" stroke-width="1.4" fill="none"/>
<path d="M356.20,468.50V474.50" stroke="#000" stroke-width="1.4" fill="none"/>
<path d="M378.50,468.50V474.50" stroke="#000" stroke-width="1.4" fill="none"/>
<path d="M383.00,468.50V474.50" stroke="#000" stroke-width="1.4" fill="none"/>
<path d="M387.70,468.50V474.50" stroke="#000" stroke-width="1.4" fill="none"/>
<path d="M447,468.5H463" stroke="#222" stroke-width="1.1" stroke-dasharray="1.2 2.2"/>
<path d="M447,475.0H463" stroke="#222" stroke-width="1.1" stroke-dasharray="1.2 2.2"/>
<path d="M46.70,425.30 H261.90 V427.60 H281.90 V430.10 H298.80 V434.60 H342.30 V437.70 H376.00 V445.20 H464.00 V469.40 H477.50" stroke="#000" stroke-width="2.8" fill="none"/>
<line x1="464.00" y1="445.20" x2="466.90" y2="445.20" stroke="#000" stroke-width="2.6"/>
<path d="M116.30,421.80V428.80" stroke="#000" stroke-width="1.7" fill="none"/>
<path d="M138.70,421.80V428.80" stroke="#000" stroke-width="1.7" fill="none"/>
<path d="M144.80,421.80V428.80" stroke="#000" stroke-width="1.7" fill="none"/>
<path d="M151.70,421.80V428.80" stroke="#000" stroke-width="1.7" fill="none"/>
<path d="M160.20,421.80V428.80" stroke="#000" stroke-width="1.7" fill="none"/>
<path d="M182.10,421.80V428.80" stroke="#000" stroke-width="1.7" fill="none"/>
<path d="M249.40,421.80V428.80" stroke="#000" stroke-width="1.7" fill="none"/>
<path d="M251.70,421.80V428.80" stroke="#000" stroke-width="1.7" fill="none"/>
<path d="M259.80,421.80V428.80" stroke="#000" stroke-width="1.7" fill="none"/>
<path d="M265.00,424.10V431.10" stroke="#000" stroke-width="1.7" fill="none"/>
<path d="M275.80,424.10V431.10" stroke="#000" stroke-width="1.7" fill="none"/>
<path d="M285.00,426.60V433.60" stroke="#000" stroke-width="1.7" fill="none"/>
<path d="M299.60,431.35V437.85" stroke="#000" stroke-width="1.2" fill="none"/>
<path d="M304.00,431.35V437.85" stroke="#000" stroke-width="1.2" fill="none"/>
<path d="M309.70,431.35V437.85" stroke="#000" stroke-width="1.2" fill="none"/>
<path d="M315.50,431.35V437.85" stroke="#000" stroke-width="1.2" fill="none"/>
<path d="M322.70,431.35V437.85" stroke="#000" stroke-width="1.2" fill="none"/>
<path d="M327.90,431.35V437.85" stroke="#000" stroke-width="1.2" fill="none"/>
<path d="M330.00,431.35V437.85" stroke="#000" stroke-width="1.2" fill="none"/>
<path d="M333.70,431.35V437.85" stroke="#000" stroke-width="1.2" fill="none"/>
<path d="M335.40,431.35V437.85" stroke="#000" stroke-width="1.2" fill="none"/>
<path d="M345.40,434.45V440.95" stroke="#000" stroke-width="1.2" fill="none"/>
<path d="M348.50,434.45V440.95" stroke="#000" stroke-width="1.2" fill="none"/>
<path d="M351.50,434.45V440.95" stroke="#000" stroke-width="1.2" fill="none"/>
<path d="M354.20,434.45V440.95" stroke="#000" stroke-width="1.2" fill="none"/>
<path d="M356.90,434.45V440.95" stroke="#000" stroke-width="1.2" fill="none"/>
<path d="M360.80,434.45V440.95" stroke="#000" stroke-width="1.2" fill="none"/>
<path d="M364.60,434.45V440.95" stroke="#000" stroke-width="1.2" fill="none"/>
<path d="M368.80,434.45V440.95" stroke="#000" stroke-width="1.2" fill="none"/>
<path d="M373.10,434.45V440.95" stroke="#000" stroke-width="1.2" fill="none"/>
<path d="M386.90,441.95V448.45" stroke="#000" stroke-width="1.6" fill="none"/>
<path d="M391.50,441.95V448.45" stroke="#000" stroke-width="1.6" fill="none"/>
<path d="M396.20,441.95V448.45" stroke="#000" stroke-width="1.6" fill="none"/>
<path d="M399.60,441.95V448.45" stroke="#000" stroke-width="1.6" fill="none"/>
<path d="M405.40,441.95V448.45" stroke="#000" stroke-width="1.6" fill="none"/>
<path d="M412.70,441.95V448.45" stroke="#000" stroke-width="1.6" fill="none"/>
<path d="M424.60,441.95V448.45" stroke="#000" stroke-width="1.6" fill="none"/>
<path d="M444.80,442.45V447.95" stroke="#000" stroke-width="1.2" fill="none"/>
<path d="M457.30,442.45V447.95" stroke="#000" stroke-width="1.2" fill="none"/>
<path d="M463.70,441.70V448.70" stroke="#000" stroke-width="1.7" fill="none"/>
<path d="M468.50,469.40H475.50M472.00,465.90V472.90" stroke="#000" stroke-width="1.7" fill="none"/>
<path d="M468.00,466.40V472.40" stroke="#000" stroke-width="1.2" fill="none"/>
<path d="M476.00,466.40V472.40" stroke="#000" stroke-width="1.2" fill="none"/>
<text transform="translate(158.00,210.40) scale(1,1.1)" font-size="11.5" text-anchor="start" >Total</text>
<text transform="translate(202.20,210.40) scale(1,1.1)" font-size="11.5" text-anchor="start" >Dead</text>
<text transform="translate(246.00,210.40) scale(1,1.1)" font-size="11.5" text-anchor="start" >Cytogenetic response</text>
<line x1="158.00" y1="211.80" x2="185.00" y2="211.80" stroke="#111" stroke-width="1.3"/>
<line x1="202.20" y1="211.80" x2="229.40" y2="211.80" stroke="#111" stroke-width="1.3"/>
<line x1="246.00" y1="211.80" x2="367.00" y2="211.80" stroke="#111" stroke-width="1.3"/>
<text transform="translate(169.30,229.70) scale(1,1.1)" font-size="11.5" text-anchor="start" >141</text>
<text transform="translate(202.20,229.70) scale(1,1.1)" font-size="11.5" text-anchor="start" >6</text>
<text transform="translate(246.00,229.70) scale(1,1.1)" font-size="11.5" text-anchor="start" >CR+PR+Minor</text>
<text transform="translate(169.30,249.40) scale(1,1.1)" font-size="11.5" text-anchor="start" >47</text>
<text transform="translate(202.20,249.40) scale(1,1.1)" font-size="11.5" text-anchor="start" >3</text>
<text transform="translate(246.00,249.40) scale(1,1.1)" font-size="11.5" text-anchor="start" >Inevaluable</text>
<text transform="translate(169.30,269.10) scale(1,1.1)" font-size="11.5" text-anchor="start" >58</text>
<text transform="translate(202.20,269.10) scale(1,1.1)" font-size="11.5" text-anchor="start" >16</text>
<text transform="translate(246.00,269.10) scale(1,1.1)" font-size="11.5" text-anchor="start" >No cytogenetic response</text>
<line x1="136.80" y1="225.20" x2="160.50" y2="225.20" stroke="#000" stroke-width="2.6"/>
<path d="M136.80,245.40H160.50" stroke="#000" stroke-width="2.6" stroke-dasharray="5.6 3.3"/>
<line x1="137.80" y1="265.30" x2="160.60" y2="265.30" stroke="#868686" stroke-width="2.8"/>
<text transform="translate(157.30,289.30) scale(1,1.1)" font-size="11.5" text-anchor="start" >(<tspan font-style="italic">P</tspan> &lt; .0001)</text>
<text transform="translate(115.00,620.90) scale(1,1.1)" font-size="11.5" text-anchor="start" >Total</text>
<text transform="translate(159.20,620.90) scale(1,1.1)" font-size="11.5" text-anchor="start" >Fail</text>
<text transform="translate(203.00,620.90) scale(1,1.1)" font-size="11.5" text-anchor="start" >Cytogenetic response</text>
<line x1="115.00" y1="622.30" x2="142.00" y2="622.30" stroke="#111" stroke-width="1.3"/>
<line x1="159.20" y1="622.30" x2="179.00" y2="622.30" stroke="#111" stroke-width="1.3"/>
<line x1="203.00" y1="622.30" x2="324.00" y2="622.30" stroke="#111" stroke-width="1.3"/>
<text transform="translate(126.30,640.20) scale(1,1.1)" font-size="11.5" text-anchor="start" >141</text>
<text transform="translate(159.20,640.20) scale(1,1.1)" font-size="11.5" text-anchor="start" >8</text>
<text transform="translate(203.00,640.20) scale(1,1.1)" font-size="11.5" text-anchor="start" >CR+PR+Minor</text>
<text transform="translate(126.30,659.90) scale(1,1.1)" font-size="11.5" text-anchor="start" >47</text>
<text transform="translate(159.20,659.90) scale(1,1.1)" font-size="11.5" text-anchor="start" >6</text>
<text transform="translate(203.00,659.90) scale(1,1.1)" font-size="11.5" text-anchor="start" >Inevaluable</text>
<text transform="translate(126.30,679.60) scale(1,1.1)" font-size="11.5" text-anchor="start" >58</text>
<text transform="translate(159.20,679.60) scale(1,1.1)" font-size="11.5" text-anchor="start" >27</text>
<text transform="translate(203.00,679.60) scale(1,1.1)" font-size="11.5" text-anchor="start" >No cytogenetic response</text>
<line x1="93.80" y1="635.70" x2="117.50" y2="635.70" stroke="#000" stroke-width="2.6"/>
<path d="M93.80,655.90H117.50" stroke="#000" stroke-width="2.6" stroke-dasharray="5.6 3.3"/>
<line x1="94.80" y1="675.80" x2="117.60" y2="675.80" stroke="#959595" stroke-width="2.8"/>
<text transform="translate(114.30,699.80) scale(1,1.1)" font-size="11.5" text-anchor="start" >(<tspan font-style="italic">P</tspan> &lt; .0001)</text>
</svg>
</body></html>
